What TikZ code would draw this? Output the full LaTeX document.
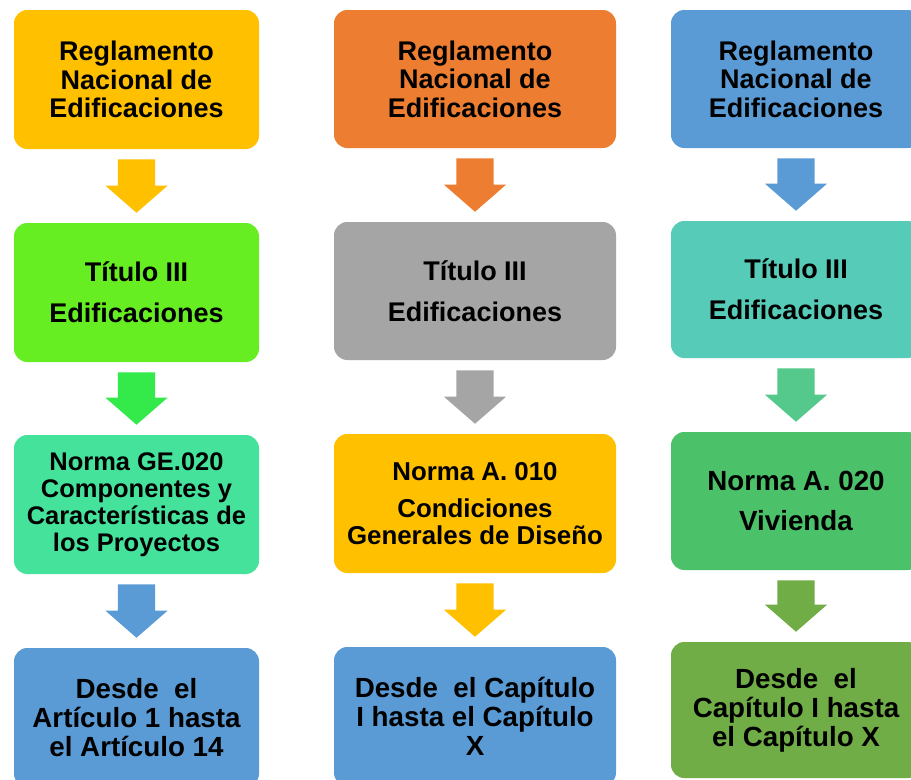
\documentclass[tikz,border=0pt]{standalone}
\usepackage{fontspec}
\setmainfont{Liberation Sans}
\usetikzlibrary{calc}
\definecolor{cgold}{HTML}{FFC000}
\definecolor{corange}{HTML}{ED7D31}
\definecolor{cblue}{HTML}{5B9BD5}
\definecolor{clime}{HTML}{66EE22}
\definecolor{cgreenarrow}{HTML}{33EA4A}
\definecolor{cmint}{HTML}{44E29B}
\definecolor{cgray}{HTML}{A5A5A5}
\definecolor{cteal}{HTML}{56CBB7}
\definecolor{cteala}{HTML}{55C98C}
\definecolor{cgreen}{HTML}{4BC16A}
\definecolor{colive}{HTML}{70AD47}
\tikzset{
  box/.style={rectangle, rounded corners=10pt, inner sep=0pt, align=center, text=black},
  sz/.style 2 args={minimum width=#1*0.75pt, minimum height=#2*0.75pt},
  fa/.style={font=\bfseries\fontsize{20.25pt}{21.4pt}\selectfont},
  fb/.style={font=\bfseries\fontsize{19.1pt}{20.25pt}\selectfont},
  fc/.style={font=\bfseries\fontsize{19.4pt}{20.25pt}\selectfont},
  fd/.style={font=\bfseries\fontsize{20.8pt}{22pt}\selectfont},
  fe/.style={font=\bfseries\fontsize{20.8pt}{21.75pt}\selectfont},
}
\newcommand\blockarrow[3]{%
  \path[fill=#1] let \p1=(#2.south), \p2=(#3.north) in
    (\x1-13.9pt,\y1-7.5pt) -- (\x1+13.9pt,\y1-7.5pt) -- (\x1+13.9pt,\y2+27.75pt)
    -- (\x1+23.25pt,\y2+27.75pt) -- (\x1,\y2+7.5pt) -- (\x1-23.25pt,\y2+27.75pt)
    -- (\x1-13.9pt,\y2+27.75pt) -- cycle;}
\begin{document}
\begin{tikzpicture}[x=0.75pt,y=-0.75pt]
\useasboundingbox (0,0) rectangle (911,779);
\clip (0,0) rectangle (911,779);
\fill[white] (0,0) rectangle (911,779);
% column 1
\node[box, sz={245}{139}, fill=cgold, fa] (a1) at (136.5,79.5) {Reglamento\\Nacional de\\Edificaciones};
\node[box, sz={245}{139}, fill=clime, fa] (a2) at (136.5,292.5) {Título III\\[9.6pt]Edificaciones};
\node[box, sz={245}{139}, fill=cmint, fb] (a3) at (136.5,504.5) {Norma GE.020\\Componentes y\\Características de\\los Proyectos};
\node[box, sz={245}{139}, fill=cblue, fe] (a4) at (136.5,717.5) {Desde\ \ el\\Artículo 1 hasta\\el Artículo 14};
% column 2
\node[box, sz={282}{138}, fill=corange, fa] (b1) at (475,79) {Reglamento\\Nacional de\\Edificaciones};
\node[box, sz={282}{138}, fill=cgray, fa] (b2) at (475,291) {Título III\\[9.6pt]Edificaciones};
\node[box, sz={282}{139}, fill=cgold, fc] (b3) at (475,503.5) {Norma A. 010\\[7.5pt]Condiciones\\Generales de Diseño};
\node[box, sz={282}{139}, fill=cblue, fe] (b4) at (475,716.5) {Desde\ \ el Capítulo\\I hasta el Capítulo\\X};
% column 3
\node[box, sz={250}{138}, fill=cblue, fa] (c1) at (796,79) {Reglamento\\Nacional de\\Edificaciones};
\node[box, sz={250}{137}, fill=cteal, fa] (c2) at (796,289.5) {Título III\\[9.6pt]Edificaciones};
\node[box, sz={250}{138}, fill=cgreen, fd] (c3) at (796,501) {Norma A. 020\\[8pt]Vivienda};
\node[box, sz={250}{136}, fill=colive, fe] (c4) at (796,710) {Desde\ \ el\\Capítulo I hasta\\el Capítulo X};
% arrows
\blockarrow{cgold}{a1}{a2}
\blockarrow{cgreenarrow}{a2}{a3}
\blockarrow{cblue}{a3}{a4}
\blockarrow{corange}{b1}{b2}
\blockarrow{cgray}{b2}{b3}
\blockarrow{cgold}{b3}{b4}
\blockarrow{cblue}{c1}{c2}
\blockarrow{cteala}{c2}{c3}
\blockarrow{colive}{c3}{c4}
\end{tikzpicture}
\end{document}
